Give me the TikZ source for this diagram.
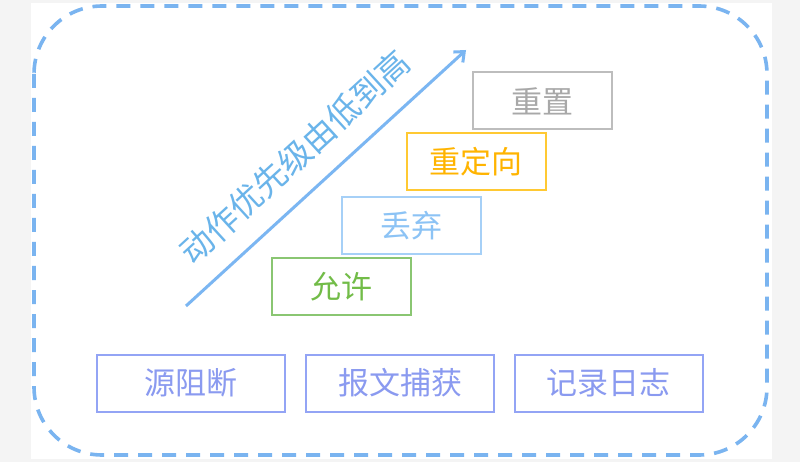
\documentclass[tikz,border=0pt]{standalone}
\usepackage{fontspec}
\setmainfont{Noto Sans CJK SC}
\usetikzlibrary{arrows.meta}
\definecolor{bgray}{HTML}{F4F4F4}
\definecolor{dashblue}{HTML}{7AB4F0}
\definecolor{arrowblue}{HTML}{7BB6F2}
\definecolor{txtblue}{HTML}{6AB4EA}
\definecolor{cgray}{HTML}{BDBDBD}
\definecolor{tgray}{HTML}{A8A8A8}
\definecolor{cyellow}{HTML}{FFC933}
\definecolor{tyellow}{HTML}{FFB400}
\definecolor{clblue}{HTML}{A6D0F7}
\definecolor{tlblue}{HTML}{8CC3F5}
\definecolor{cgreen}{HTML}{8AC672}
\definecolor{tgreen}{HTML}{72BC48}
\definecolor{cperi}{HTML}{93A4F5}
\definecolor{tperi}{HTML}{8A9AF0}
\tikzset{
  actbox/.style={draw, line width=2pt, minimum width=139pt, minimum height=57pt, inner sep=0pt, font=\fontsize{31}{31}\selectfont},
  funcbox/.style={draw=cperi, text=tperi, line width=2pt, minimum width=188pt, minimum height=57pt, inner sep=0pt, font=\fontsize{31}{31}\selectfont},
}
\begin{document}
\begin{tikzpicture}[x=1pt,y=-1pt]
\useasboundingbox (0,0) rectangle (800,462);
\fill[bgray] (0,0) rectangle (800,462);
\fill[white] (31,3) rectangle (772,459);
\draw[dashblue, line width=3.6pt, dash pattern=on 14pt off 10pt, rounded corners=68pt] (34,6) rectangle (767,455);
\node[actbox, draw=cgray, text=tgray] (reset) at (542.5,101) {重置};
\node[actbox, draw=cyellow, text=tyellow] (redir) at (476,162) {重定向};
\node[actbox, draw=clblue, text=tlblue] (drop) at (411,225.5) {丢弃};
\node[actbox, draw=cgreen, text=tgreen] (allow) at (341,286.5) {允许};
\node[funcbox] (block) at (191,383) {源阻断};
\node[funcbox] (capture) at (400,383) {报文捕获};
\node[funcbox] (logging) at (608.5,383) {记录日志};
\coordinate (astart) at (186,306);
\coordinate (aend) at (466,50);
\draw[arrowblue, line width=3pt, -{Straight Barb[angle=80:11pt, line width=3pt]}] (astart) -- (aend);
\node[text=txtblue, rotate=42.5, font=\fontsize{33}{33}\selectfont] (prio) at (295,157) {动作优先级由低到高};
\end{tikzpicture}
\end{document}
